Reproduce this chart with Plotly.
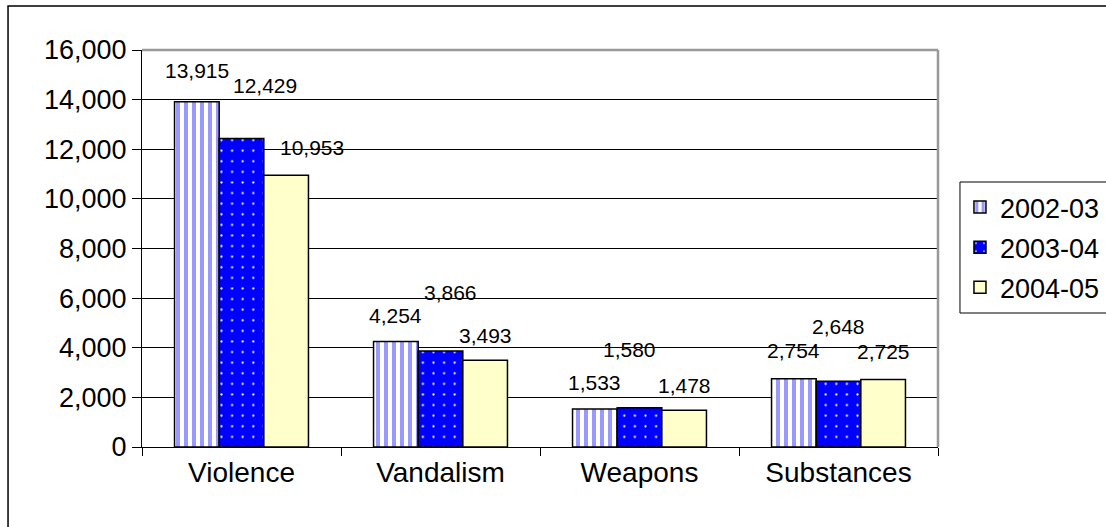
import plotly.graph_objects as go

categories = ["Violence", "Vandalism", "Weapons", "Substances"]
series_names = ["2002-03", "2003-04", "2004-05"]
v_2002_03 = [13915, 4254, 1533, 2754]
v_2003_04 = [12429, 3866, 1580, 2648]
v_2004_05 = [10953, 3493, 1478, 2725]
y_ticks = [0, 2000, 4000, 6000, 8000, 10000, 12000, 14000, 16000]

values = [v_2002_03, v_2003_04, v_2004_05]

FONT = "Arial, Liberation Sans, sans-serif"
styles = [
    dict(color="white", pattern=dict(shape="|", fgcolor="#9999ff", bgcolor="white", size=8, solidity=0.5, fillmode="replace")),
    dict(color="#0000ff", pattern=dict(shape=".", fgcolor="white", bgcolor="#0000ff", size=10.6, solidity=0.035, fillmode="replace")),
    dict(color="#ffffcc"),
]

fig = go.Figure()
for name, vals, st in zip(series_names, values, styles):
    fig.add_trace(go.Bar(
        x=categories, y=vals, name=name, legendgroup=name,
        marker=dict(line=dict(color="black", width=1.5), **st),
    ))

# label placement (pixel offsets): bar offset + extra shifts
bar_px = 44.6
label_dx = [[0, 23, 26], [0, 10, 0], [0, -10, 0], [0, 0, 0]]
label_dy = [[31, 53, 28], [26, 59, 25], [26, 58, 25], [28, 55, 28]]
annotations = []
for si, vals in enumerate(values):
    for ci, cat in enumerate(categories):
        annotations.append(dict(
            x=cat, y=vals[ci], xref="x", yref="y",
            text=f"{vals[ci]:,}", showarrow=False,
            xshift=(si - 1) * bar_px + label_dx[ci][si],
            yshift=label_dy[ci][si],
            font=dict(family=FONT, size=21, color="black"),
        ))

shapes = [
    # outer frame
    dict(type="rect", xref="paper", yref="paper", x0=-0.1683, x1=1.4, y0=-0.3, y1=1.111,
         line=dict(color="black", width=1.5), layer="below"),
    # gray top/right plot border
    dict(type="line", xref="paper", yref="paper", x0=0, x1=1, y0=1, y1=1,
         line=dict(color="#999999", width=2.5)),
    dict(type="line", xref="paper", yref="paper", x0=1, x1=1, y0=0, y1=1,
         line=dict(color="#999999", width=2.5)),
    # legend box (runs off the right edge)
    dict(type="rect", xref="paper", yref="paper", x0=1.0276, x1=1.4, y0=0.3375, y1=0.6675,
         line=dict(color="black", width=1)),
]

fig.update_layout(
    width=1106, height=527,
    margin=dict(l=142, r=168, t=50, b=80, autoexpand=False),
    paper_bgcolor="white", plot_bgcolor="white",
    barmode="group", bargap=0.327, bargroupgap=0,
    font=dict(family=FONT, size=27, color="black"),
    showlegend=True,
    legend=dict(x=1.0276, y=0.665, xanchor="left", yanchor="top",
                borderwidth=0, bgcolor="rgba(0,0,0,0)",
                font=dict(family=FONT, size=27), traceorder="grouped",
                tracegroupgap=2, itemwidth=30),
    annotations=annotations,
    shapes=shapes,
)
fig.update_xaxes(showline=True, linecolor="black", linewidth=1,
                 ticks="outside", tickson="boundaries", ticklen=8, tickcolor="black",
                 tickfont=dict(size=28), showgrid=False)
fig.update_yaxes(range=[0, 16000], tickvals=y_ticks, tickformat=",d",
                 showline=True, linecolor="black", linewidth=1,
                 ticks="outside", ticklen=9, tickcolor="black",
                 showgrid=True, gridcolor="black", gridwidth=1,
                 tickfont=dict(size=27), zeroline=False)

fig.write_html("out.html", config={"displayModeBar": False},
               post_script="document.body.style.margin='0';")
